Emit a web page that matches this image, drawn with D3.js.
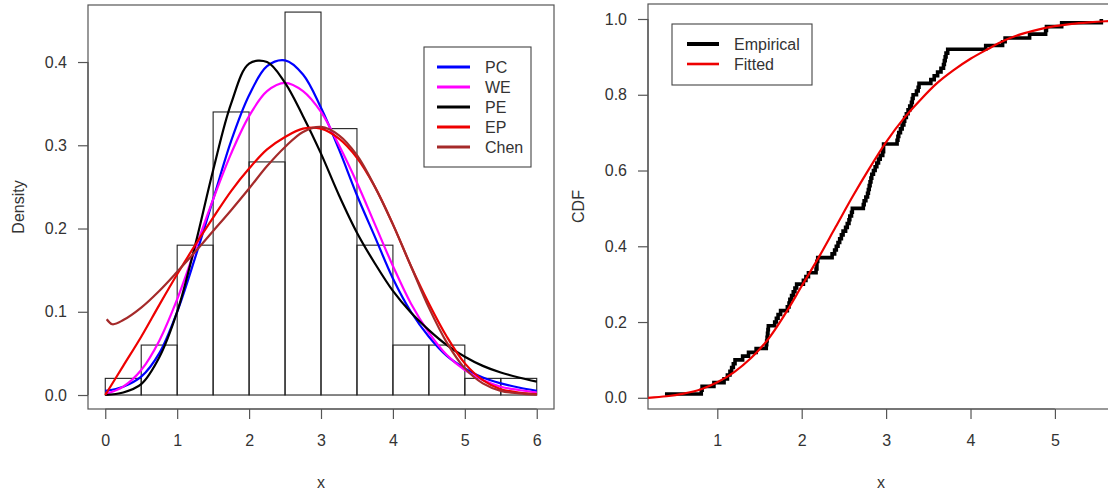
<!DOCTYPE html>
<html><head><meta charset="utf-8">
<script src="https://cdn.jsdelivr.net/npm/d3@7"></script>
<style>
body{margin:0;background:#fff}
svg{display:block}
text{font-family:"Liberation Sans",Arial,Helvetica,sans-serif;fill:#333}
</style>
</head><body>
<svg id="chart" width="1108" height="492"></svg>
<script>
// ---------- data: left panel (histogram + fitted densities) ----------
const histBreaks = [0,0.5,1,1.5,2,2.5,3,3.5,4,4.5,5,5.5,6];
const histDensity = [0.02,0.06,0.18,0.34,0.28,0.46,0.32,0.18,0.06,0.06,0.02,0.02];

const gridX = [0,0.25,0.5,0.75,1,1.25,1.5,1.75,2,2.25,2.5,2.75,3,3.25,3.5,3.75,4,4.25,4.5,4.75,5,5.25,5.5,5.75,6];
const pcDensity = [0.005,0.010,0.022,0.050,0.100,0.165,0.235,0.305,0.360,0.395,0.402,0.385,0.345,0.295,0.240,0.190,0.140,0.100,0.070,0.047,0.032,0.021,0.014,0.009,0.005];
const weDensity = [0.001,0.010,0.030,0.065,0.115,0.175,0.235,0.290,0.335,0.365,0.375,0.365,0.340,0.300,0.255,0.205,0.155,0.110,0.075,0.048,0.030,0.018,0.010,0.006,0.003];
const peDensity = [0.000,0.003,0.013,0.045,0.100,0.180,0.270,0.350,0.398,0.400,0.375,0.335,0.290,0.240,0.195,0.158,0.125,0.099,0.078,0.060,0.046,0.035,0.027,0.021,0.016];
const epDensity = [0.000,0.035,0.070,0.108,0.145,0.180,0.213,0.245,0.272,0.295,0.310,0.320,0.320,0.308,0.285,0.250,0.205,0.155,0.110,0.070,0.038,0.018,0.007,0.003,0.001];
const chenX = [0.02,0.1,0.25,0.5,0.75,1,1.25,1.5,1.75,2,2.25,2.5,2.75,3,3.25,3.5,3.75,4,4.25,4.5,4.75,5,5.25,5.5,5.75,6];
const chenDensity = [0.091,0.085,0.090,0.105,0.125,0.148,0.172,0.197,0.222,0.248,0.275,0.298,0.316,0.322,0.312,0.288,0.250,0.205,0.155,0.105,0.063,0.032,0.014,0.005,0.002,0.0005];

const densityNames = ["PC","WE","PE","EP","Chen"];
const densityColors = ["#0000ff","#ff00ff","#000000","#ee0000","#a52a2a"];

const leftXTicks = [0,1,2,3,4,5,6];
const leftYTicks = [0,0.1,0.2,0.3,0.4];
const leftYTickLabels = ["0.0","0.1","0.2","0.3","0.4"];

// ---------- data: right panel (empirical vs fitted CDF) ----------
const sampleValues = [
  0.38,
  0.81,0.82,0.96,
  1.08,1.12,1.15,1.17,1.19,1.21,1.30,1.37,1.46,
  1.58,1.585,1.59,1.595,1.60,1.605,1.68,1.70,1.72,1.75,1.83,1.85,1.86,1.88,1.90,1.92,1.94,
  2.02,2.05,2.08,2.17,2.18,2.18,2.19,2.36,2.39,2.41,2.43,2.45,2.47,2.49,
  2.52,2.54,2.56,2.57,2.59,2.60,2.73,2.74,2.76,2.78,2.79,2.80,2.81,2.82,2.83,2.85,2.87,2.89,2.91,2.93,2.96,2.97,2.97,
  3.13,3.14,3.15,3.17,3.19,3.21,3.22,3.24,3.26,3.28,3.30,3.31,3.32,3.36,3.38,3.39,
  3.53,3.57,3.61,3.65,3.68,3.69,3.70,3.71,3.73,
  4.18,4.38,4.41,
  4.70,4.89,4.90,
  5.08,
  5.55
];
const fittedX = [0.18,0.4,0.6,0.8,1.0,1.2,1.4,1.6,1.8,2.0,2.2,2.4,2.6,2.8,3.0,3.2,3.4,3.6,3.8,4.0,4.2,4.4,4.6,4.8,5.0,5.2,5.4,5.6,5.8];
const fittedCDF = [0.000,0.004,0.011,0.022,0.041,0.068,0.105,0.154,0.220,0.295,0.370,0.450,0.530,0.605,0.675,0.735,0.785,0.830,0.865,0.895,0.920,0.943,0.960,0.972,0.981,0.987,0.991,0.994,0.996];
const cdfNames = ["Empirical","Fitted"];
const cdfColors = ["#000000","#ee0000"];

const rightXTicks = [1,2,3,4,5];
const rightYTicks = [0,0.2,0.4,0.6,0.8,1.0];
const rightYTickLabels = ["0.0","0.2","0.4","0.6","0.8","1.0"];

// ---------- drawing ----------
const svg = d3.select("#chart");
const axisColor = "#555";
const fontSize = 16;

function drawFrame(g, x, y, box, xTicks, yTicks, yLabels, xTitle, yTitle, yTitleX) {
  g.append("rect").attr("x", box.x0).attr("y", box.y0)
    .attr("width", box.x1 - box.x0).attr("height", box.y1 - box.y0)
    .attr("fill", "none").attr("stroke", axisColor).attr("stroke-width", 1.2);
  // x axis
  const xa = g.append("g").attr("transform", `translate(0,${box.y1})`)
    .call(d3.axisBottom(x).tickValues(xTicks).tickFormat(d3.format("d")).tickSize(10).tickPadding(16));
  xa.select(".domain").remove();
  xa.selectAll("line").attr("stroke", axisColor).attr("stroke-width", 1.2);
  xa.selectAll("text").style("font-size", fontSize + "px").attr("fill", "#333");
  g.append("line").attr("x1", x(xTicks[0])).attr("x2", x(xTicks[xTicks.length-1]))
    .attr("y1", box.y1).attr("y2", box.y1).attr("stroke", axisColor).attr("stroke-width", 1.2);
  // y axis
  const ya = g.append("g").attr("transform", `translate(${box.x0},0)`)
    .call(d3.axisLeft(y).tickValues(yTicks).tickFormat((d, i) => yLabels[i]).tickSize(10).tickPadding(11));
  ya.select(".domain").remove();
  ya.selectAll("line").attr("stroke", axisColor).attr("stroke-width", 1.2);
  ya.selectAll("text").style("font-size", fontSize + "px").attr("fill", "#333");
  g.append("line").attr("y1", y(yTicks[0])).attr("y2", y(yTicks[yTicks.length-1]))
    .attr("x1", box.x0).attr("x2", box.x0).attr("stroke", axisColor).attr("stroke-width", 1.2);
  // titles
  g.append("text").attr("x", (box.x0 + box.x1) / 2).attr("y", 488)
    .attr("text-anchor", "middle").style("font-size", fontSize + "px").text(xTitle);
  g.append("text").attr("transform", `translate(${yTitleX},${(box.y0 + box.y1) / 2}) rotate(-90)`)
    .attr("text-anchor", "middle").attr("dy", "0.35em").style("font-size", fontSize + "px").text(yTitle);
}

// ----- left panel -----
const boxL = {x0: 88, x1: 554, y0: 5, y1: 409};
const xL = d3.scaleLinear().domain([-0.24, 6.24]).range([boxL.x0, boxL.x1]);
const yL = d3.scaleLinear().domain([-0.0168, 0.4685]).range([boxL.y1, boxL.y0]);
const gL = svg.append("g");

svg.append("clipPath").attr("id", "clipL").append("rect")
  .attr("x", boxL.x0).attr("y", boxL.y0).attr("width", boxL.x1 - boxL.x0).attr("height", boxL.y1 - boxL.y0);

// histogram
gL.append("g").selectAll("rect").data(histDensity).join("rect")
  .attr("x", (d, i) => xL(histBreaks[i]))
  .attr("width", (d, i) => xL(histBreaks[i+1]) - xL(histBreaks[i]))
  .attr("y", d => yL(d))
  .attr("height", d => yL(0) - yL(d))
  .attr("fill", "none").attr("stroke", "#222").attr("stroke-width", 1.1);

drawFrame(gL, xL, yL, boxL, leftXTicks, leftYTicks, leftYTickLabels, "x", "Density", 18);

const densitySeries = [
  {name: "PC", xs: gridX, ys: pcDensity},
  {name: "WE", xs: gridX, ys: weDensity},
  {name: "PE", xs: gridX, ys: peDensity},
  {name: "EP", xs: gridX, ys: epDensity},
  {name: "Chen", xs: chenX, ys: chenDensity}
];
const lineL = d3.line().x(d => xL(d[0])).y(d => yL(d[1])).curve(d3.curveCatmullRom.alpha(0.5));
const curvesL = gL.append("g").attr("clip-path", "url(#clipL)");
// draw in order so that Chen and EP are on top like the original
densitySeries.forEach((s, i) => {
  curvesL.append("path")
    .attr("d", lineL(s.xs.map((v, j) => [v, s.ys[j]])))
    .attr("fill", "none").attr("stroke", densityColors[i]).attr("stroke-width", 2.2);
});

// legend left
const legL = gL.append("g");
legL.append("rect").attr("x", 424).attr("y", 47).attr("width", 107).attr("height", 120)
  .attr("fill", "#fff").attr("stroke", "#444").attr("stroke-width", 1.1);
densityNames.forEach((n, i) => {
  const yy = 67 + i * 20;
  legL.append("line").attr("x1", 437).attr("x2", 470).attr("y1", yy).attr("y2", yy)
    .attr("stroke", densityColors[i]).attr("stroke-width", 3);
  legL.append("text").attr("x", 485).attr("y", yy).attr("dy", "0.35em")
    .style("font-size", fontSize + "px").text(n);
});

// ----- right panel -----
const boxR = {x0: 648, x1: 1114, y0: 4, y1: 409};
const xR = d3.scaleLinear().domain([0.179, 5.70]).range([boxR.x0, boxR.x1]);
const yR = d3.scaleLinear().domain([-0.0296, 1.0396]).range([boxR.y1, boxR.y0]);
const gR = svg.append("g");
svg.append("clipPath").attr("id", "clipR").append("rect")
  .attr("x", boxR.x0).attr("y", boxR.y0).attr("width", boxR.x1 - boxR.x0).attr("height", boxR.y1 - boxR.y0);

drawFrame(gR, xR, yR, boxR, rightXTicks, rightYTicks, rightYTickLabels, "x", "CDF", 578);

const n = sampleValues.length;
const ecdfPts = sampleValues.map((v, i) => [v, (i + 1) / n]);
const curvesR = gR.append("g").attr("clip-path", "url(#clipR)");
curvesR.append("path")
  .attr("d", d3.line().x(d => xR(d[0])).y(d => yR(d[1])).curve(d3.curveStepAfter)(ecdfPts))
  .attr("fill", "none").attr("stroke", cdfColors[0]).attr("stroke-width", 3.6).attr("stroke-linejoin", "miter");
curvesR.append("path")
  .attr("d", d3.line().x(d => xR(d[0])).y(d => yR(d[1])).curve(d3.curveCatmullRom.alpha(0.5))(fittedX.map((v, i) => [v, fittedCDF[i]])))
  .attr("fill", "none").attr("stroke", cdfColors[1]).attr("stroke-width", 2.2);

// legend right
const legR = gR.append("g");
legR.append("rect").attr("x", 672).attr("y", 24).attr("width", 140).attr("height", 61)
  .attr("fill", "#fff").attr("stroke", "#444").attr("stroke-width", 1.1);
cdfNames.forEach((nm, i) => {
  const yy = 44 + i * 20;
  legR.append("line").attr("x1", 687).attr("x2", 719).attr("y1", yy).attr("y2", yy)
    .attr("stroke", cdfColors[i]).attr("stroke-width", i === 0 ? 4 : 2.6);
  legR.append("text").attr("x", 734).attr("y", yy).attr("dy", "0.35em")
    .style("font-size", fontSize + "px").text(nm);
});
</script>
</body></html>
